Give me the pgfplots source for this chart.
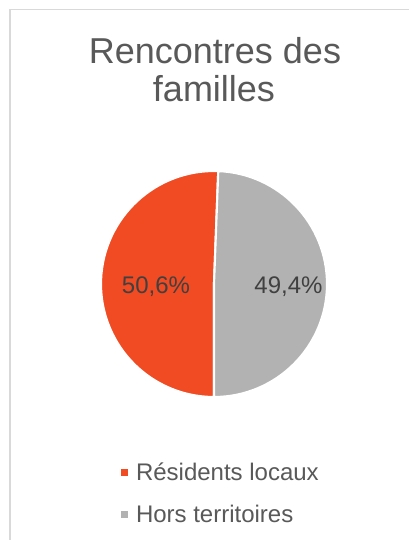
\documentclass[border=0pt]{standalone}
\usepackage{fontspec}
\setmainfont{Liberation Sans}
\usepackage{pgfplots}
\usepackage{pgfplotstable}
\pgfplotsset{compat=1.18}
\definecolor{sliceA}{RGB}{240,75,35}
\definecolor{sliceB}{RGB}{178,178,178}
\definecolor{titlegray}{RGB}{89,89,89}
\definecolor{labelgray}{RGB}{64,64,64}
\definecolor{framegray}{RGB}{217,217,217}
% share (%) of each category
\pgfplotstableread{
category value
Residents 50.6
Hors 49.4
}\piedata
\pgfplotstablegetelem{0}{value}\of\piedata \let\valA\pgfplotsretval
\pgfplotstablegetelem{1}{value}\of\piedata \let\valB\pgfplotsretval
\begin{document}
\begin{tikzpicture}
\begin{scope}[x=0.75pt,y=-0.75pt]
\useasboundingbox (0,0) rectangle (408,540);
\fill[white] (0,0) rectangle (408,540);
\draw[framegray, line width=1.1pt] (10,545) -- (10,9.5) -- (412,9.5);
\node[anchor=base, text=titlegray, font=\fontsize{27}{32}\selectfont, inner sep=0pt] at (215,63.3) {Rencontres des};
\node[anchor=base, text=titlegray, font=\fontsize{27}{32}\selectfont, inner sep=0pt] at (214,101.6) {familles};
\end{scope}
% pie: start of slice B at bottom (-90), going counterclockwise
\pgfmathsetmacro\angB{-90+3.6*\valB}
\pgfmathsetmacro\xS{113*cos(\angB)}
\pgfmathsetmacro\yS{113*sin(\angB)}
\begin{axis}[
  at={(160.5pt,-213pt)}, anchor=origin,
  x=0.75pt, y=0.75pt,
  xmin=-120, xmax=120, ymin=-120, ymax=120,
  hide axis, clip=false,
  legend cell align=left,
  legend image code/.code={\fill[#1, draw=none] (0pt,-2.6pt) rectangle (5.2pt,2.6pt);},
  legend style={draw=none, fill=none, at={(0.095,-0.22)}, anchor=north west,
    font=\fontsize{18}{21.5}\selectfont, text=titlegray, row sep=13pt,
    /tikz/every odd column/.append style={column sep=4pt}},
]
\addplot[fill=sliceA, draw=white, line width=1.6pt]
  coordinates {(0,0)} -- (axis cs:\xS,\yS) arc[start angle=\angB, end angle=270, radius=84.75pt] -- cycle;
\addlegendentry{Résidents locaux}
\addplot[fill=sliceB, draw=white, line width=1.6pt]
  coordinates {(0,0)} -- (axis cs:0,-113) arc[start angle=-90, end angle=\angB, radius=84.75pt] -- cycle;
\addlegendentry{Hors territoires}
\node[anchor=base, text=labelgray, font=\fontsize{18}{22}\selectfont, inner sep=0pt] at (axis cs:-58,-9.5) {50,6\%};
\node[anchor=base, text=labelgray, font=\fontsize{18}{22}\selectfont, inner sep=0pt] at (axis cs:74.5,-9.5) {49,4\%};
\end{axis}
\end{tikzpicture}
\end{document}
